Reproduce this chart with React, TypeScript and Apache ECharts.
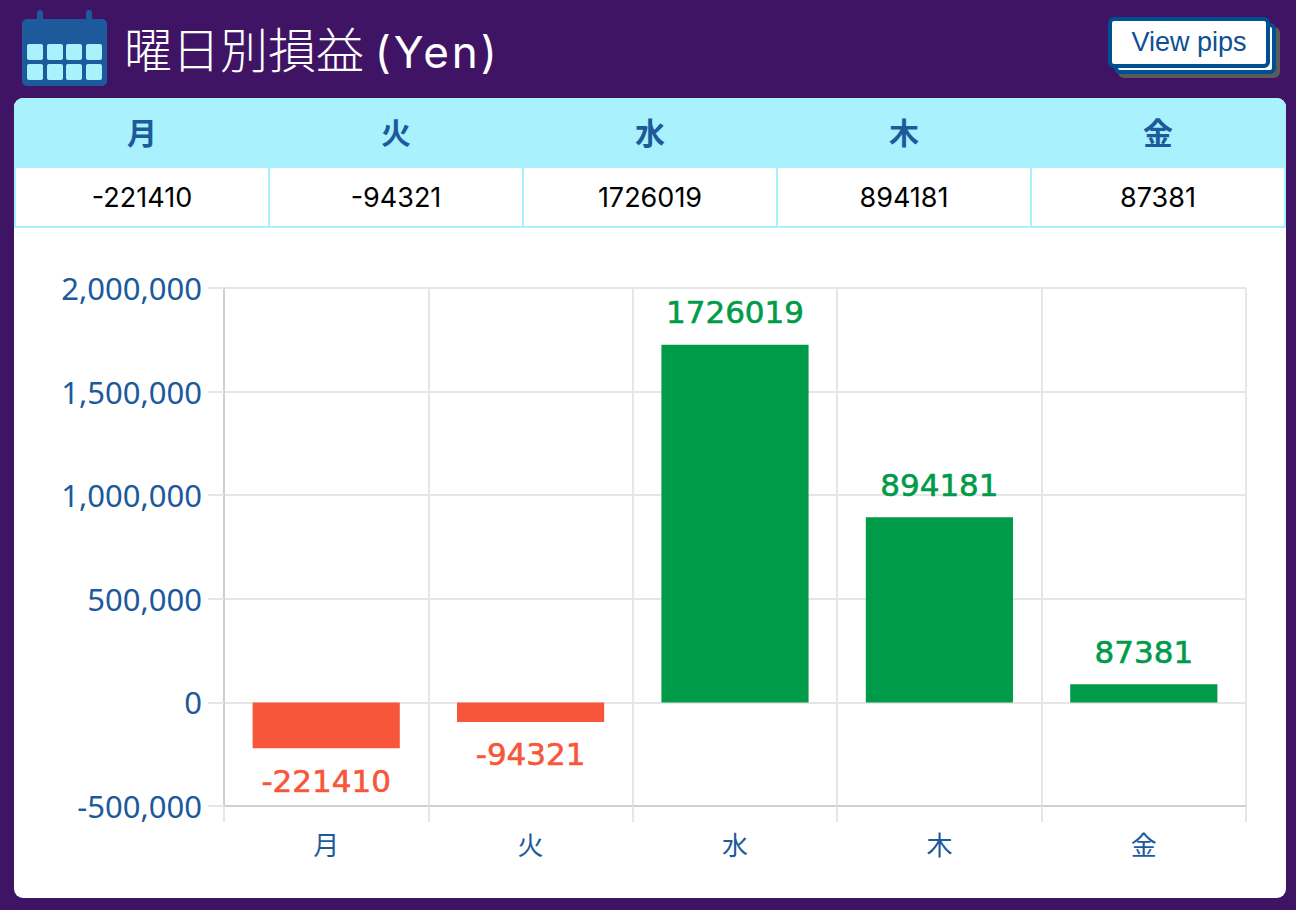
import React, { useEffect, useRef } from "react";
import * as echarts from "echarts";

const categories = ["月", "火", "水", "木", "金"];
const values = [-221410, -94321, 1726019, 894181, 87381];
const titleCjk = "曜日別損益";
const titleLatin = "(Yen)";
const buttonText = "View pips";
const calendarCols = [27, 47, 66, 86];
const calendarRows = [44, 64];

const UP = "#009b48";
const DOWN = "#f8563a";
const BLUE = "#1c5a9b";
const CYAN = "#a8f1fd";
const GRID = "#e6e6e6";
const CJK = '"Noto Sans CJK JP", "Noto Sans"';

const abs = (x: number, y: number, w: number, h: number): React.CSSProperties => ({
  position: "absolute", left: x, top: y, width: w, height: h, boxSizing: "border-box",
});

export default function App() {
  const ref = useRef<HTMLDivElement>(null);
  useEffect(() => {
    document.body.style.margin = "0";
    const chart = echarts.init(ref.current!, undefined, { renderer: "svg" });
    chart.setOption({
      animation: false,
      grid: { left: 224, top: 288, width: 1022, height: 518, containLabel: false, outerBoundsMode: "none" },
      xAxis: {
        type: "category",
        data: categories,
        position: "bottom",
        axisLine: { show: true, onZero: false, lineStyle: { color: "#cfcfcf", width: 2 } },
        axisTick: { show: true, length: 16, lineStyle: { color: GRID, width: 2 } },
        splitLine: { show: true, lineStyle: { color: GRID, width: 2 } },
        axisLabel: { color: BLUE, fontSize: 26, fontFamily: CJK, margin: 24 },
      },
      yAxis: {
        type: "value",
        position: "left",
        min: -500000,
        max: 2000000,
        interval: 500000,
        axisLine: { show: true, onZero: false, lineStyle: { color: "#cfcfcf", width: 2 } },
        axisTick: { show: true, inside: false, length: 16, lineStyle: { color: GRID, width: 2 } },
        splitLine: { show: true, lineStyle: { color: GRID, width: 2 } },
        axisLabel: {
          color: BLUE, fontSize: 31, fontFamily: "Noto Sans", margin: 22,
          formatter: (v: number) => v.toLocaleString("en-US"),
        },
      },
      series: [
        {
          type: "bar",
          barWidth: "72%",
          data: values.map((v) => ({
            value: v,
            itemStyle: { color: v >= 0 ? UP : DOWN },
            label: {
              show: true,
              position: v >= 0 ? "top" : "bottom",
              distance: 17,
              color: v >= 0 ? UP : DOWN,
              textBorderColor: v >= 0 ? UP : DOWN,
              textBorderWidth: 0.6,
              fontSize: 31,
              fontFamily: "DejaVu Sans",
            },
          })),
        },
      ],
    });
    return () => chart.dispose();
  }, []);

  return (
    <div style={{ position: "relative", width: 1296, height: 910, background: "#3f1465", overflow: "hidden" }}>
      <svg style={abs(0, 0, 120, 96)} viewBox="0 0 120 96">
        <rect x="37" y="10" width="6" height="14" rx="3" fill={BLUE} />
        <rect x="86" y="10" width="6" height="14" rx="3" fill={BLUE} />
        <rect x="22" y="19" width="85" height="67" rx="5" fill={BLUE} />
        {calendarRows.map((y) =>
          calendarCols.map((x) => <rect key={x + "-" + y} x={x} y={y} width="16" height="16" rx="2" fill={CYAN} />)
        )}
      </svg>
      <div style={{ ...abs(124, 13, 520, 68), color: "#fff", fontFamily: CJK, fontSize: 48, fontWeight: 300, lineHeight: "68px", whiteSpace: "nowrap" }}>
        {titleCjk}{" "}
        <span style={{ fontFamily: "Inter", fontSize: 44, fontWeight: 400, letterSpacing: 3 }}>{titleLatin}</span>
      </div>

      <div style={{ ...abs(1114, 23, 162, 51), background: "#fff", border: "4px solid #004f92", borderRadius: 6, boxShadow: "4px 4px 0 #5a5a5a" }} />
      <div style={{ ...abs(1108, 17, 162, 51), background: "#fff", border: "4px solid #004f92", borderRadius: 6, color: "#0d5093", fontFamily: '"Liberation Sans"', fontSize: 27, lineHeight: "43px", textAlign: "center" }}>
        {buttonText}
      </div>

      <div style={{ ...abs(14, 98, 1272, 800), background: "#fff", borderRadius: 9, overflow: "hidden" }}>
        <div style={{ ...abs(0, 0, 1272, 70), background: CYAN }} />
        {categories.map((c, i) => (
          <React.Fragment key={c}>
            <div style={{ ...abs(1 + i * 254, 0, 254, 70), color: BLUE, fontFamily: CJK, fontWeight: 700, fontSize: 30, lineHeight: "66px", textAlign: "center" }}>
              {c}
            </div>
            <div style={{ ...abs(i * 254, 70, 256, 60), borderLeft: `2px solid ${CYAN}`, borderRight: `2px solid ${CYAN}`, borderBottom: `2px solid ${CYAN}`, color: "#000", fontFamily: "Inter", fontSize: 27, lineHeight: "59px", textAlign: "center" }}>
              {values[i]}
            </div>
          </React.Fragment>
        ))}
      </div>

      <div ref={ref} style={abs(0, 0, 1296, 910)} />
    </div>
  );
}
